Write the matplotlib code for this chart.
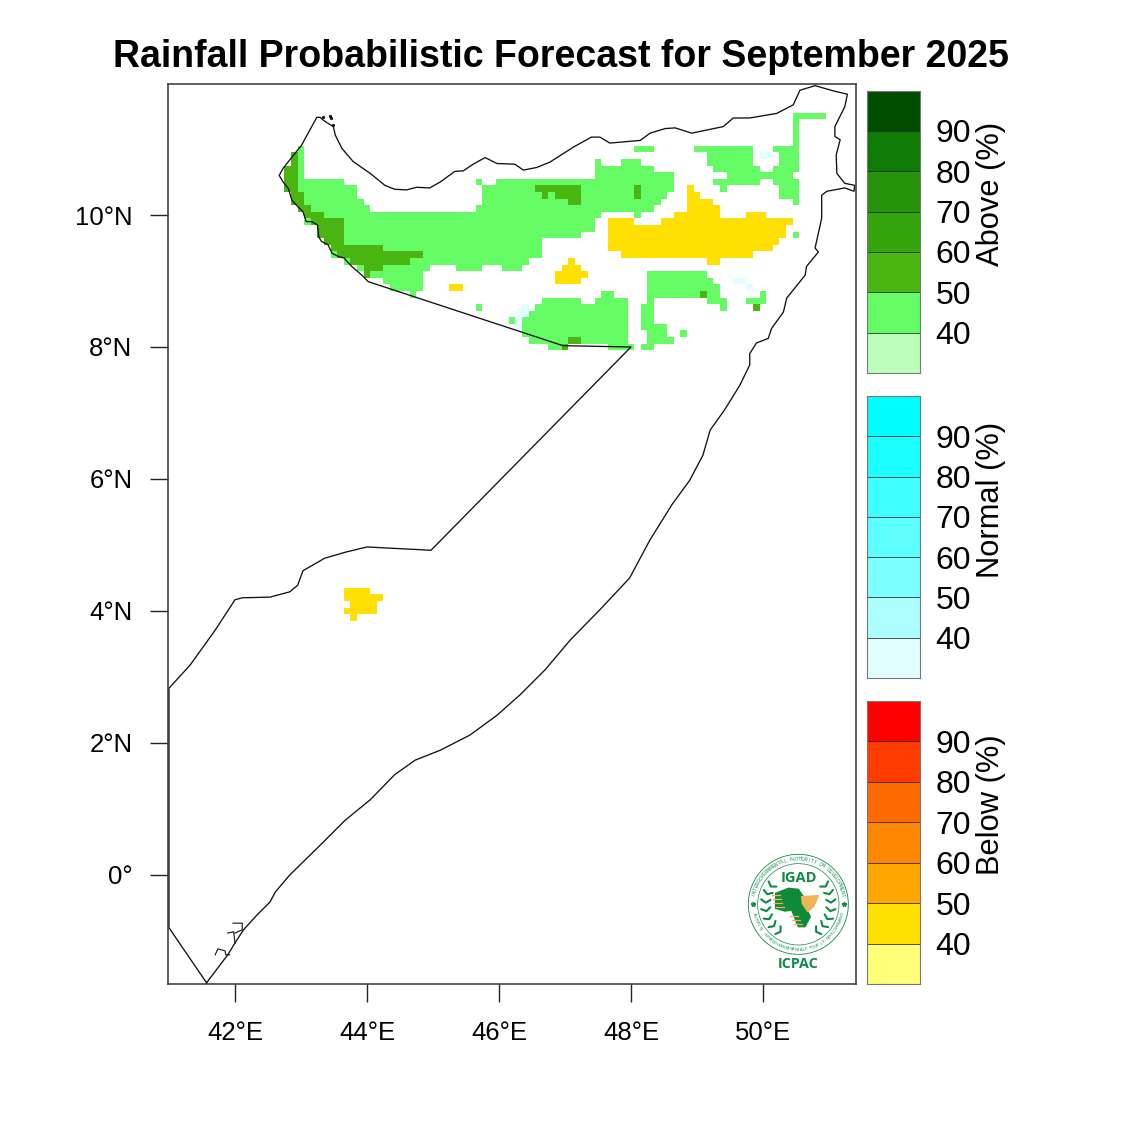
import numpy as np
import matplotlib
matplotlib.use("Agg")
import matplotlib.pyplot as plt
from matplotlib.colors import ListedColormap
from matplotlib.patches import Circle, Polygon

plt.rcParams["font.family"] = ["Liberation Sans", "DejaVu Sans"]

# forecast grid, 0.1 degree cells: (row, first col, last col)
LON0, LAT0 = 42.8, 11.5
N_ROWS, N_COLS = 78, 84

ABOVE_40 = [
    (0, 77, 81), (1, 77, 77), (2, 77, 77), (3, 77, 77), (4, 77, 77),
    (5, 2, 2), (5, 53, 55), (5, 62, 70), (5, 74, 77),
    (6, 2, 2), (6, 64, 70), (6, 75, 77),
    (7, 2, 2), (7, 47, 47), (7, 51, 53), (7, 64, 70), (7, 75, 77),
    (8, 2, 2), (8, 47, 55), (8, 65, 71), (8, 74, 77),
    (9, 2, 2), (9, 47, 58), (9, 67, 76),
    (10, 2, 8), (10, 29, 29), (10, 32, 58), (10, 65, 71), (10, 74, 77),
    (11, 2, 10), (11, 30, 58), (11, 66, 66), (11, 75, 77),
    (12, 3, 10), (12, 30, 57), (12, 75, 77),
    (13, 3, 11), (13, 30, 56), (13, 77, 77),
    (14, 4, 12), (14, 29, 55),
    (15, 6, 47), (15, 53, 53),
    (16, 3, 3), (16, 9, 46),
    (17, 9, 46),
    (18, 9, 44), (18, 77, 77),
    (19, 9, 38), (20, 15, 38),
    (21, 7, 7), (21, 21, 38),
    (22, 9, 9), (22, 19, 36),
    (23, 11, 11), (23, 15, 21), (23, 26, 29), (23, 33, 35),
    (24, 13, 20), (24, 55, 63),
    (25, 15, 20), (25, 55, 64),
    (26, 16, 20), (26, 55, 65),
    (27, 19, 19), (27, 48, 49), (27, 55, 65), (27, 72, 72),
    (28, 39, 44), (28, 47, 51), (28, 55, 55), (28, 64, 66), (28, 70, 72),
    (29, 29, 29), (29, 38, 51), (29, 54, 55), (29, 66, 66),
    (30, 37, 51), (30, 54, 55),
    (31, 34, 34), (31, 36, 51), (31, 54, 55),
    (32, 36, 51), (32, 54, 57),
    (33, 36, 51), (33, 55, 57), (33, 60, 60),
    (34, 37, 51), (34, 55, 58),
    (35, 40, 41), (35, 49, 52), (35, 54, 55),
]
ABOVE_50 = [
    (6, 1, 1), (7, 1, 1), (8, 0, 1), (9, 0, 1), (10, 0, 1), (11, 0, 1),
    (12, 1, 2), (13, 1, 2), (14, 2, 3), (15, 3, 5), (16, 4, 8), (17, 5, 8),
    (18, 5, 8), (19, 6, 8), (20, 7, 14), (21, 8, 20), (22, 10, 18),
    (23, 12, 14), (24, 12, 12),
    (11, 38, 44), (11, 53, 53), (12, 39, 39), (12, 41, 44), (12, 53, 53),
    (13, 43, 44), (27, 63, 63), (29, 71, 71), (34, 43, 44), (35, 42, 42),
]
BELOW_40 = [
    (11, 61, 61), (12, 61, 62), (13, 61, 64), (14, 61, 65),
    (15, 59, 65), (15, 70, 72), (16, 49, 52), (16, 57, 76),
    (17, 49, 75), (18, 49, 75), (19, 49, 74), (20, 49, 73), (21, 51, 70),
    (22, 43, 43), (22, 64, 65), (23, 42, 44), (24, 41, 45), (25, 41, 44),
    (26, 25, 26),
    (72, 9, 12), (73, 9, 14), (74, 10, 13), (75, 9, 13), (76, 10, 10),
]
NORMAL_40 = [
    (6, 72, 73), (25, 68, 69), (26, 70, 70), (29, 36, 36), (30, 35, 36),
    (31, 35, 35), (32, 35, 35),
]

# Somalia outline
BORDER_LON = [
    41.58, 41.00, 41.00, 41.32, 41.70, 42.00, 42.11, 42.53, 42.83, 42.95, 43.03, 43.36,
    43.67, 44.00, 44.97, 48.00, 46.97, 44.02, 43.92, 43.77, 43.65, 43.57, 43.47, 43.41,
    43.31, 43.27, 43.25, 43.16, 43.08, 43.03, 42.93, 42.86, 42.81, 42.73, 42.67, 42.73,
    43.01, 43.24, 43.29, 43.36, 43.49, 43.52, 43.62, 43.79, 44.05, 44.27, 44.42, 44.60,
    44.75, 44.95, 45.11, 45.33, 45.46, 45.61, 45.79, 45.97, 46.24, 46.37, 46.57, 46.77,
    47.13, 47.40, 47.53, 47.68, 48.14, 48.29, 48.52, 48.67, 48.92, 49.40, 49.55, 49.80,
    50.21, 50.46, 50.56, 50.79, 51.07, 51.28, 51.24, 51.09, 51.09, 51.17, 51.11, 51.12,
    51.24, 51.39, 51.38, 51.24, 50.97, 50.89, 50.89, 50.79, 50.84, 50.66, 50.64, 50.36,
    50.31, 50.13, 50.08, 49.90, 49.80, 49.80, 49.65, 49.42, 49.20, 49.09, 48.89, 48.62,
    48.29, 47.98, 47.53, 47.08, 46.70, 46.32, 45.97, 45.56, 45.11, 44.73, 44.42, 44.05,
    43.67, 43.29, 42.83, 42.61, 42.53, 42.33, 42.13, 42.00, 41.89, 41.58,
]
BORDER_LAT = [
    -1.65, -0.80, 2.83, 3.18, 3.71, 4.17, 4.20, 4.21, 4.29, 4.39, 4.61, 4.80,
    4.89, 4.97, 4.92, 8.00, 8.02, 8.99, 9.09, 9.22, 9.35, 9.37, 9.42, 9.55,
    9.60, 9.67, 9.85, 9.90, 9.90, 10.05, 10.15, 10.23, 10.40, 10.50, 10.60, 10.71,
    11.06, 11.48, 11.48, 11.42, 11.34, 11.21, 11.01, 10.81, 10.63, 10.45, 10.39, 10.38,
    10.42, 10.41, 10.50, 10.66, 10.67, 10.77, 10.87, 10.78, 10.77, 10.68, 10.72, 10.80,
    11.03, 11.18, 11.18, 11.09, 11.13, 11.24, 11.31, 11.32, 11.24, 11.34, 11.47, 11.47,
    11.54, 11.67, 11.89, 11.96, 11.88, 11.83, 11.64, 11.34, 11.19, 11.14, 10.91, 10.63,
    10.48, 10.45, 10.36, 10.41, 10.36, 10.30, 9.95, 9.50, 9.44, 9.22, 9.09, 8.74,
    8.53, 8.28, 8.13, 8.06, 7.90, 7.73, 7.42, 7.05, 6.74, 6.36, 5.98, 5.61,
    5.08, 4.50, 4.02, 3.56, 3.11, 2.73, 2.42, 2.12, 1.89, 1.74, 1.52, 1.14,
    0.83, 0.45, 0.00, -0.26, -0.41, -0.61, -0.83, -1.03, -1.21, -1.62,
]
ISLANDS = [
    ([41.70, 41.74, 41.85, 41.86, 41.92], [-1.21, -1.12, -1.15, -1.21, -1.21]),
    ([41.89, 41.98, 42.00], [-0.88, -0.86, -1.03]),
    ([41.97, 42.11, 42.11, 42.00], [-0.73, -0.73, -0.83, -0.88]),
]
ISLET_LON = [43.44, 43.46, 43.48, 43.33]
ISLET_LAT = [11.50, 11.47, 11.36, 11.48]

LON_TICKS = [42, 44, 46, 48, 50]
LAT_TICKS = [10, 8, 6, 4, 2, 0]
LON_LABELS = ["42°E", "44°E", "46°E", "48°E", "50°E"]
LAT_LABELS = ["10°N", "8°N", "6°N", "4°N", "2°N", "0°"]

# colorbar boxes, bottom to top
CB_LEVELS = [40, 50, 60, 70, 80, 90]
ABOVE_COLORS = ["#BBFFBB", "#64FB64", "#4AB511", "#34A50D", "#27930A", "#0F7A05", "#004D00"]
NORMAL_COLORS = ["#E2FFFF", "#ADFFFF", "#7CFFFF", "#5DFFFF", "#3FFFFF", "#1CFFFF", "#00FFFF"]
BELOW_COLORS = ["#FFFF78", "#FFE000", "#FFA700", "#FF8800", "#FF6A00", "#FF3C00", "#FF0000"]

W, H = 1125, 1125


def px_axes(left, top, right, bottom, **kw):
    return fig.add_axes([left / W, 1 - bottom / H, (right - left) / W, (bottom - top) / H], **kw)


def fill_runs(grid, runs, value):
    for row, c0, c1 in runs:
        grid[row, c0:c1 + 1] = value


fig = plt.figure(figsize=(W / 100, H / 100), dpi=100, facecolor="white")
ax = px_axes(168, 84, 856, 984)

grid = np.zeros((N_ROWS, N_COLS))
fill_runs(grid, ABOVE_40, 1)
fill_runs(grid, ABOVE_50, 2)
fill_runs(grid, BELOW_40, 3)
fill_runs(grid, NORMAL_40, 4)

lon_edges = LON0 - 0.05 + 0.1 * np.arange(N_COLS + 1)
lat_edges = LAT0 + 0.05 - 0.1 * np.arange(N_ROWS + 1)
cmap = ListedColormap(["#FFFFFF", ABOVE_COLORS[1], ABOVE_COLORS[2], BELOW_COLORS[1], NORMAL_COLORS[0]])
ax.pcolormesh(lon_edges, lat_edges, grid, cmap=cmap, vmin=-0.5, vmax=4.5, antialiased=False, linewidth=0)

ax.plot(BORDER_LON, BORDER_LAT, color="#111111", lw=0.95, clip_on=True, solid_joinstyle="round")
for lons, lats in ISLANDS:
    ax.plot(lons, lats, color="#111111", lw=0.8)
ax.plot(ISLET_LON, ISLET_LAT, ls="none", marker="o", ms=1.3, color="#111111")

ax.set_xlim(40.985, 51.41)
ax.set_ylim(-1.652, 11.985)
ax.set_xticks(LON_TICKS)
ax.set_xticklabels(LON_LABELS)
ax.set_yticks(LAT_TICKS)
ax.set_yticklabels(LAT_LABELS)
ax.tick_params(length=13, width=1.0, color="#222222", labelsize=18.5, pad=12.5)
ax.tick_params(axis="x", pad=14)
for sp in ax.spines.values():
    sp.set_color("#333333")
    sp.set_linewidth(1.1)

fig.text(561 / W, 1 - 57 / H, "Rainfall Probabilistic Forecast for September 2025",
         ha="center", va="center", fontsize=27, fontweight="bold", color="black")


def colorbar(top, bottom, colors, label, label_y):
    cax = px_axes(867, top, 920, bottom)
    edges = np.arange(len(colors) + 1)
    cax.pcolormesh([0, 1], edges, np.arange(len(colors)).reshape(-1, 1),
                   cmap=ListedColormap(colors), antialiased=False)
    cax.hlines(edges[1:-1], 0, 1, color="#222222", lw=0.7, alpha=0.8)
    cax.set_xlim(0, 1)
    cax.set_ylim(0, len(colors))
    cax.set_xticks([])
    cax.set_yticks([1, 2, 3, 4, 5, 6])
    cax.set_yticklabels([str(v) for v in CB_LEVELS])
    cax.yaxis.tick_right()
    cax.tick_params(length=0, labelsize=23, pad=11)
    for sp in cax.spines.values():
        sp.set_color("#777777")
        sp.set_linewidth(0.8)
    fig.text(991 / W, 1 - label_y / H, label, rotation=90, ha="center", va="center", fontsize=22.2)


colorbar(90.5, 373, ABOVE_COLORS, "Above (%)", 193.5)
colorbar(396, 678, NORMAL_COLORS, "Normal (%)", 500)
colorbar(701, 984, BELOW_COLORS, "Below (%)", 805)

# logo, drawn in its own little axes
LOGO_GREEN = "#0E8A45"
LOGO_ORANGE = "#F0B458"
AFRICA_X = [122, 160, 190, 205, 200, 218, 226, 210, 190, 180, 170, 150, 122]
AFRICA_Y = [145, 130, 133, 155, 175, 200, 215, 245, 245, 220, 195, 198, 190]
HORN_X = [200, 250, 236, 218, 202]
HORN_Y = [155, 152, 185, 200, 175]

lax = px_axes(735, 845, 860, 980)
lax.set_xlim(0, 375)
lax.set_ylim(405, 0)
lax.axis("off")
lax.patch.set_alpha(0)
cx, cy = 190, 178
lax.add_patch(Circle((cx, cy), 150, fill=False, ec=LOGO_GREEN, lw=0.6))
lax.add_patch(Circle((cx, cy), 122, fill=False, ec=LOGO_GREEN, lw=0.5))
lax.add_patch(Polygon(np.column_stack([AFRICA_X, AFRICA_Y]), color="#0E8A3A"))
lax.add_patch(Polygon(np.column_stack([HORN_X, HORN_Y]), color=LOGO_ORANGE))
for y0, x0, x1 in [(150, 112, 135), (162, 115, 138), (174, 118, 142), (186, 122, 148),
                   (212, 165, 190), (224, 170, 195), (236, 178, 200)]:
    lax.plot([x0, x1], [y0, y0], color=LOGO_ORANGE, lw=0.9)
lax.text(cx + 2, 100, "IGAD", color=LOGO_GREEN, fontsize=10.5, fontweight="bold", ha="center", va="center",
         family=["Open Sans", "DejaVu Sans"])
lax.text(cx, 356, "ICPAC", color=LOGO_GREEN, fontsize=10.3, fontweight="bold", ha="center", va="center",
         family=["Open Sans", "DejaVu Sans"])

top_text = "INTERGOVERNMENTAL AUTHORITY ON DEVELOPMENT"
for i, ch in enumerate(top_text):
    a = np.deg2rad(168 - 156 * i / (len(top_text) - 1))
    lax.text(cx + 136 * np.cos(a), cy - 136 * np.sin(a), ch, fontsize=3.3, color=LOGO_GREEN,
             ha="center", va="center", rotation=np.rad2deg(a) - 90)
bottom_text = "AUTORITÉ INTERGOUVERNEMENTALE POUR LE DÉVELOPPEMENT"
for i, ch in enumerate(bottom_text):
    a = np.deg2rad(192 + 156 * i / (len(bottom_text) - 1))
    lax.text(cx + 136 * np.cos(a), cy - 136 * np.sin(a), ch, fontsize=2.8, color=LOGO_GREEN,
             ha="center", va="center", rotation=np.rad2deg(a) + 90)
lax.plot([cx - 136, cx + 136], [cy, cy], ls="none", marker="*", ms=3.5, color=LOGO_GREEN)

# wreath leaves
for side in (-1, 1):
    for deg in np.arange(-33, 72, 15):
        a = np.deg2rad(deg)
        px = cx + side * 98 * np.cos(a)
        py = cy + 98 * np.sin(a)
        tx, ty = -side * np.sin(a), np.cos(a)
        nx, ny = side * np.cos(a), np.sin(a)
        lax.plot([px + 14 * nx - 9 * tx, px, px - 14 * nx - 9 * tx],
                 [py + 14 * ny - 9 * ty, py, py - 14 * ny - 9 * ty],
                 color=LOGO_GREEN, lw=1.5, solid_capstyle="round")

fig.savefig("out.png", dpi=100, facecolor="white")
